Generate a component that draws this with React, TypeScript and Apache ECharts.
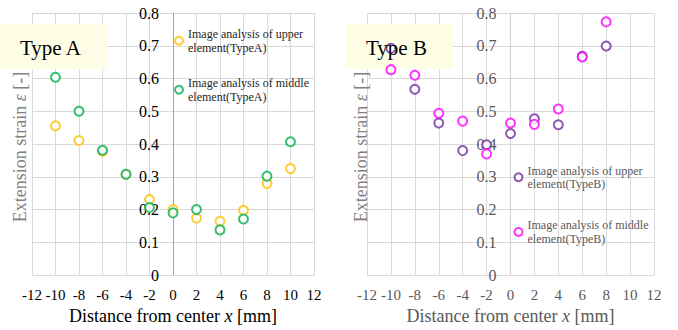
import React, { useEffect, useRef } from "react";
import * as echarts from "echarts";

const xA = [-10, -8, -6, -4, -2, 0, 2, 4, 6, 8, 10];
const upperA = [0.456, 0.411, 0.378, 0.307, 0.231, 0.2, 0.174, 0.164, 0.198, 0.28, 0.325];
const middleA = [0.604, 0.5, 0.381, 0.308, 0.206, 0.19, 0.2, 0.138, 0.171, 0.302, 0.407];

const xB = [-10, -8, -6, -4, -2, 0, 2, 4, 6, 8];
const upperB = [0.692, 0.567, 0.464, 0.38, 0.398, 0.432, 0.477, 0.459, 0.668, 0.699];
const middleB = [0.627, 0.61, 0.494, 0.47, 0.37, 0.464, 0.46, 0.507, 0.666, 0.773];

const nameUA = "Image analysis of upper\nelement(TypeA)";
const nameMA = "Image analysis of middle\nelement(TypeA)";
const nameUB = "Image analysis of upper\nelement(TypeB)";
const nameMB = "Image analysis of middle\nelement(TypeB)";

const FONT = "Liberation Serif";
const GRID = "#D9D9D9";

const pairs = (xs: number[], ys: number[]) => xs.map((x, i) => [x, ys[i]]);

function xAxisCfg(gridIndex: number, color: string) {
  return {
    type: "value",
    gridIndex,
    min: -12,
    max: 12,
    interval: 2,
    name: "Distance from center {i|x} [mm]",
    nameLocation: "middle",
    nameGap: 27,
    nameTextStyle: {
      fontFamily: FONT,
      fontSize: 18,
      color,
      rich: { i: { fontFamily: FONT, fontSize: 18, fontStyle: "italic", color } },
    },
    axisLine: { show: true, onZero: false, lineStyle: { color: GRID } },
    axisTick: { show: false },
    axisLabel: { fontFamily: FONT, fontSize: 15, color, margin: 12 },
    splitLine: { show: true, lineStyle: { color: GRID, width: 1 } },
  };
}

function yAxisCfg(gridIndex: number, color: string, lineColor: string, offset: number) {
  return {
    type: "value",
    gridIndex,
    min: 0,
    max: 0.8,
    interval: 0.1,
    offset,
    axisLine: { show: true, onZero: false, lineStyle: { color: lineColor } },
    axisTick: { show: false },
    axisLabel: {
      fontFamily: FONT,
      fontSize: 16,
      color,
      margin: 14,
      formatter: (v: number) => (v === 0 ? "0" : v.toFixed(1)),
    },
    splitLine: { show: true, lineStyle: { color: GRID, width: 1 } },
  };
}

function scatter(name: string, data: number[][], color: string, idx: number) {
  return {
    type: "scatter",
    name,
    xAxisIndex: idx,
    yAxisIndex: idx,
    data,
    symbol: "emptyCircle",
    symbolSize: 9,
    z: 3,
    itemStyle: { color, borderColor: color, borderWidth: 2 },
  };
}

export default function App() {
  const ref = useRef<HTMLDivElement>(null);
  useEffect(() => {
    if (!ref.current) return;
    const chart = echarts.init(ref.current, null, { renderer: "svg" });
    const legendBase = {
      orient: "vertical",
      itemWidth: 8,
      itemHeight: 8,
      icon: "emptyCircle",
      selectedMode: false,
      padding: 0,
      itemStyle: { borderWidth: 2 },
    };
    chart.setOption({
      animation: false,
      textStyle: { fontFamily: FONT },
      grid: [
        { left: 32, top: 13, width: 282, height: 267 },
        { left: 367, top: 13, width: 287, height: 267 },
      ],
      xAxis: [xAxisCfg(0, "#000000"), xAxisCfg(1, "#595959")],
      yAxis: [
        yAxisCfg(0, "#000000", "#A6A6A6", -141),
        yAxisCfg(1, "#595959", "#D0D0D0", -143.5),
      ],
      legend: [
        {
          ...legendBase,
          data: [nameUA, nameMA],
          left: 174,
          top: 20.5,
          itemGap: 8.5,
          textStyle: {
            fontFamily: FONT,
            fontSize: 12,
            lineHeight: 13.5,
            color: "#262626",
            padding: [13.5, 0, 0, 0],
          },
        },
        {
          ...legendBase,
          data: [nameUB, nameMB],
          left: 513.5,
          top: 157,
          itemGap: 14.2,
          textStyle: {
            fontFamily: FONT,
            fontSize: 12,
            lineHeight: 13.5,
            color: "#595959",
            padding: [13.5, 0, 0, 0],
          },
        },
      ],
      graphic: [
        { type: "rect", z: 1, shape: { x: 0, y: 24, width: 107, height: 45 }, style: { fill: "#FEFEE6" } },
        { type: "rect", z: 1, shape: { x: 346, y: 24, width: 107, height: 45 }, style: { fill: "#FEFEE6" } },
        {
          type: "text", z: 10, x: 20, y: 48,
          style: { text: "Type A", fontFamily: FONT, fontSize: 21, fill: "#000", verticalAlign: "middle" },
        },
        {
          type: "text", z: 10, x: 366, y: 48,
          style: { text: "Type B", fontFamily: FONT, fontSize: 21, fill: "#000", verticalAlign: "middle" },
        },
        {
          type: "text", z: 10, x: 20, y: 147, rotation: Math.PI / 2,
          style: {
            text: "Extension strain {i|ε} [-]",
            fontFamily: FONT, fontSize: 18, fill: "#7F7F7F", align: "center", verticalAlign: "middle",
            rich: { i: { fontFamily: FONT, fontSize: 18, fontStyle: "italic", fill: "#7F7F7F" } },
          },
        },
        {
          type: "text", z: 10, x: 360.5, y: 147, rotation: Math.PI / 2,
          style: {
            text: "Extension strain {i|ε} [-]",
            fontFamily: FONT, fontSize: 18, fill: "#7F7F7F", align: "center", verticalAlign: "middle",
            rich: { i: { fontFamily: FONT, fontSize: 18, fontStyle: "italic", fill: "#7F7F7F" } },
          },
        },
      ],
      series: [
        scatter(nameUA, pairs(xA, upperA), "#FFC000", 0),
        scatter(nameMA, pairs(xA, middleA), "#00B050", 0),
        scatter(nameUB, pairs(xB, upperB), "#7030A0", 1),
        scatter(nameMB, pairs(xB, middleB), "#FF00FF", 1),
      ],
    });
    return () => chart.dispose();
  }, []);
  return (
    <div
      ref={ref}
      style={{ position: "fixed", left: 0, top: 0, width: 678, height: 330, background: "#fff" }}
    />
  );
}
